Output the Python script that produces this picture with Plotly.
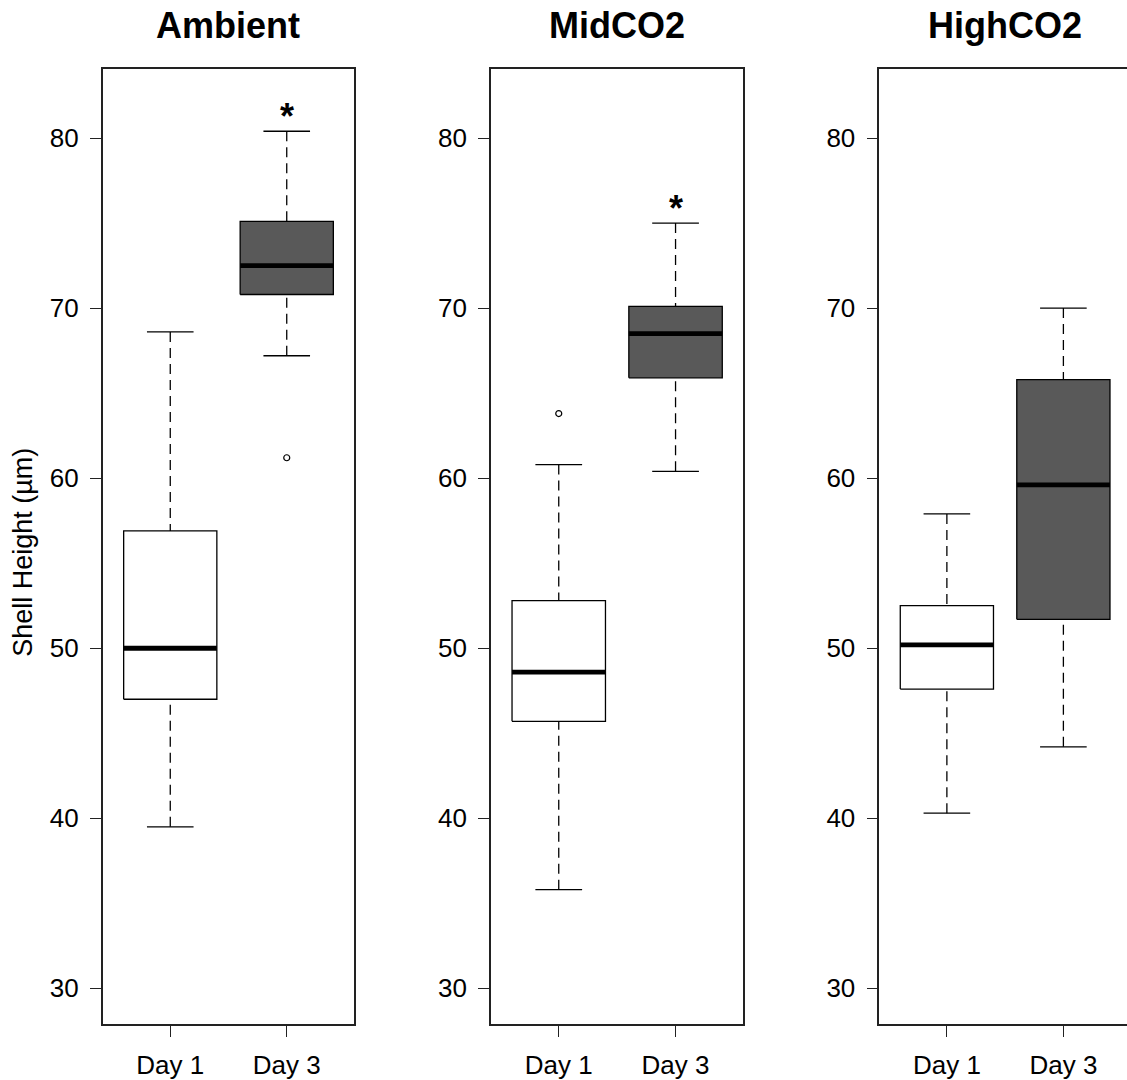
import plotly.graph_objects as go

# ---- data ----
panels = ["Ambient", "MidCO2", "HighCO2"]
days = ["Day 1", "Day 3"]
lower = [[39.5, 67.2], [35.8, 60.4], [40.3, 44.2]]
q1 = [[47.0, 70.8], [45.7, 65.9], [47.6, 51.7]]
median = [[50.0, 72.5], [48.6, 68.5], [50.2, 59.6]]
q3 = [[56.9, 75.1], [52.8, 70.1], [52.5, 65.8]]
upper = [[68.6, 80.4], [60.8, 75.0], [57.9, 70.0]]
outliers = [[[], [61.2]], [[63.8], []], [[], []]]
signif = [["", "*"], ["", "*"], ["", ""]]
y_ticks = [30, 40, 50, 60, 70, 80]
y_label = "Shell Height (µm)"

# ---- style ----
W, H = 1127, 1080
FONT = "Liberation Sans, Arial, Helvetica, sans-serif"
fills = ["white", "#595959"]
half_box = 0.4
half_cap = 0.2
x_domains = [[102.7 / W, 354.3 / W], [491.0 / W, 743.3 / W], [879.3 / W, 1.0]]
x_ranges = [[0.42, 2.58], [0.42, 2.58], [0.42, 2.546]]
title_x_px = [228.5, 617.0, 1005.0]
y_domain = [1 - 1033.3 / H, 1 - 69.3 / H]
y_range = [27.92, 84.08]

fig = go.Figure()
annotations = []

for p, name in enumerate(panels):
    xa = "x" if p == 0 else f"x{p+1}"
    ya = "y" if p == 0 else f"y{p+1}"
    for d, day in enumerate(days):
        x = d + 1
        # whiskers (dashed), drawn from fence to box
        fig.add_trace(go.Scatter(
            x=[x, x, None, x, x],
            y=[lower[p][d], q1[p][d], None, upper[p][d], q3[p][d]],
            mode="lines", line=dict(color="black", width=1.3, dash="10px,6px"),
            xaxis=xa, yaxis=ya, showlegend=False, hoverinfo="skip"))
        # caps
        fig.add_trace(go.Scatter(
            x=[x - half_cap, x + half_cap, None, x - half_cap, x + half_cap],
            y=[lower[p][d], lower[p][d], None, upper[p][d], upper[p][d]],
            mode="lines", line=dict(color="black", width=1.3),
            xaxis=xa, yaxis=ya, showlegend=False, hoverinfo="skip"))
        # box
        fig.add_trace(go.Scatter(
            x=[x - half_box, x + half_box, x + half_box, x - half_box, x - half_box],
            y=[q1[p][d], q1[p][d], q3[p][d], q3[p][d], q1[p][d]],
            mode="lines", fill="toself", fillcolor=fills[d],
            line=dict(color="black", width=1.3),
            xaxis=xa, yaxis=ya, showlegend=False, hoverinfo="skip"))
        # median
        fig.add_trace(go.Scatter(
            x=[x - half_box, x + half_box],
            y=[median[p][d], median[p][d]],
            mode="lines", line=dict(color="black", width=4.8),
            xaxis=xa, yaxis=ya, showlegend=False, hoverinfo="skip"))
        # outliers
        if outliers[p][d]:
            fig.add_trace(go.Scatter(
                x=[x] * len(outliers[p][d]), y=outliers[p][d],
                mode="markers",
                marker=dict(symbol="circle-open", size=6, color="black",
                            line=dict(width=1.2, color="black")),
                xaxis=xa, yaxis=ya, showlegend=False, hoverinfo="skip"))
        # significance marker
        if signif[p][d]:
            annotations.append(dict(
                x=x, y=upper[p][d], xref=xa, yref=ya, text=f"<b>{signif[p][d]}</b>",
                showarrow=False, yanchor="bottom", yshift=-8,
                font=dict(family=FONT, size=36, color="black")))
    # panel title
    annotations.append(dict(
        x=title_x_px[p] / W, y=1 - 26 / H, xref="paper", yref="paper",
        text=f"<b>{name}</b>", showarrow=False, xanchor="center", yanchor="middle",
        font=dict(family=FONT, size=36, color="black")))

# y axis label
annotations.append(dict(
    x=23 / W, y=1 - 558 / H, xref="paper", yref="paper", text=y_label,
    textangle=-90, showarrow=False, xanchor="center", yanchor="middle",
    font=dict(family=FONT, size=27, color="black")))

axis_common = dict(showgrid=False, zeroline=False, showline=True, linecolor="#222",
                   linewidth=1.6, ticks="outside", ticklen=11, tickwidth=1.3,
                   tickcolor="#222", tickfont=dict(family=FONT, size=26, color="black"))

layout = dict(
    width=W, height=H, margin=dict(l=0, r=0, t=0, b=0),
    paper_bgcolor="white", plot_bgcolor="white", showlegend=False,
    annotations=annotations,
)
for p in range(3):
    xkey = "xaxis" if p == 0 else f"xaxis{p+1}"
    ykey = "yaxis" if p == 0 else f"yaxis{p+1}"
    layout[xkey] = dict(axis_common, domain=x_domains[p], range=x_ranges[p],
                        tickvals=[1, 2], ticktext=days, mirror=True,
                        anchor="y" if p == 0 else f"y{p+1}", ticklabelstandoff=6)
    layout[ykey] = dict(axis_common, domain=y_domain, range=y_range,
                        tickvals=y_ticks, mirror=(p < 2),
                        anchor="x" if p == 0 else f"x{p+1}", ticklabelstandoff=6)

fig.update_layout(**layout)
fig.write_html("out.html", config={"displayModeBar": False},
               post_script="document.body.style.margin='0';document.body.style.overflow='hidden';")
